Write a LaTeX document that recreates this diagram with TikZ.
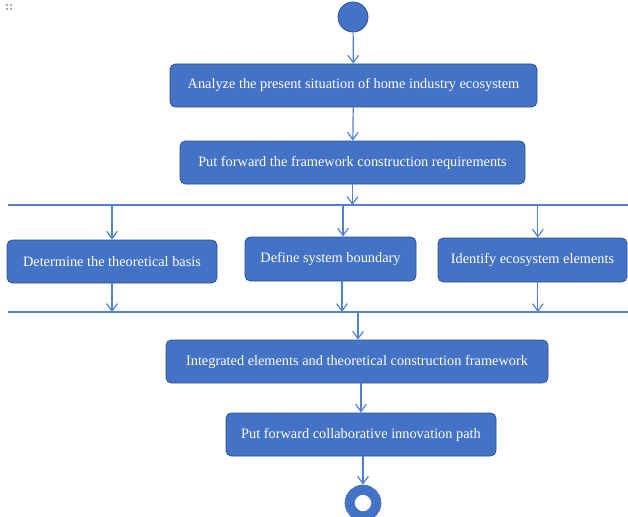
\documentclass[tikz,border=0pt]{standalone}
\usepackage{fontspec}
\setmainfont{Liberation Serif}
\usetikzlibrary{arrows.meta}
\definecolor{boxblue}{HTML}{4472C4}
\definecolor{boxedge}{HTML}{2F528F}
\definecolor{lineblue}{HTML}{5083D6}
\begin{document}
\begin{tikzpicture}[x=0.75pt,y=-0.75pt,
  step box/.style={draw=boxedge,line width=0.6pt,fill=boxblue,rounded corners=4pt,text=white,font=\fontsize{10.75pt}{12pt}\selectfont,minimum height=32.25pt,inner sep=0pt},
  flow/.style={lineblue,line width=0.9pt,-{Straight Barb[length=5.5pt,width=8pt]}},
  bar/.style={lineblue,line width=0.9pt}]
  \useasboundingbox (0,0) rectangle (628,517);

  % handle dots in the corner
  \foreach \px in {7,11} \foreach \py in {5,9}
    \fill[gray!70] (\px,\py) circle [radius=1.3];

  % start and end
  \node[circle,fill=boxblue,draw=boxedge,line width=0.6pt,minimum size=22.5pt,inner sep=0pt] (start) at (353,17) {};
  \node[step box,minimum width=275.25pt] (b1) at (353.5,85.5) {Analyze the present situation of home industry ecosystem};
  \node[step box,minimum width=258.75pt] (b2) at (352.5,162.5) {Put forward the framework construction requirements};
  \node[step box,minimum width=157.5pt] (b3a) at (112,261.5) {Determine the theoretical basis};
  \node[step box,minimum width=128.25pt,minimum height=33pt] (b3b) at (330.5,259) {Define system boundary};
  \node[step box,minimum width=141.75pt,minimum height=33pt] (b3c) at (532.5,260) {Identify ecosystem elements};
  \node[step box,minimum width=286.5pt] (b4) at (357,361.5) {Integrated elements and theoretical construction framework};
  \node[step box,minimum width=202.5pt] (b5) at (361,434.5) {Put forward collaborative innovation path};
  \node[circle,draw=boxblue,line width=7.5pt,minimum size=20pt,inner sep=0pt,fill=white] (stop) at (363,503) {};

  % fork and join bars
  \coordinate (fork l) at (8,205);
  \coordinate (fork r) at (628,205);
  \coordinate (join l) at (8,312);
  \coordinate (join r) at (628,312);
  \draw[bar] (fork l) -- (fork r);
  \draw[bar] (join l) -- (join r);

  \draw[flow] (start) -- (b1);
  \draw[flow] (b1) -- (b2);
  \draw[flow] (b2.south) -- (b2.south |- fork l);
  \draw[flow] (b3a.north |- fork l) -- (b3a.north);
  \draw[flow] ([xshift=9.4pt]b3b.north |- fork l) -- ([xshift=9.4pt]b3b.north);
  \draw[flow] ([xshift=4pt]b3c.north |- fork l) -- ([xshift=4pt]b3c.north);
  \draw[flow] (b3a.south) -- (b3a.south |- join l);
  \draw[flow] ([xshift=8.6pt]b3b.south) -- ([xshift=8.6pt]b3b.south |- join l);
  \draw[flow] ([xshift=4pt]b3c.south) -- ([xshift=4pt]b3c.south |- join l);
  \draw[flow] ([xshift=0.75pt]b4.north |- join l) -- ([xshift=0.75pt]b4.north);
  \draw[flow] (b5.north |- b4.south) -- (b5.north);
  \draw[flow] (b5.south -| stop) -- (stop);
\end{tikzpicture}
\end{document}
